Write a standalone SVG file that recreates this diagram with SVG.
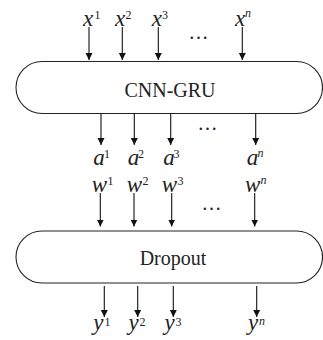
<svg xmlns="http://www.w3.org/2000/svg" width="323" height="340" viewBox="0 0 323 340">
<defs>
<marker id="ah" markerUnits="userSpaceOnUse" markerWidth="8" markerHeight="8" viewBox="0 0 8 8" refX="7" refY="4" orient="auto">
<path d="M0,0.5 L7,4 L0,7.5 Z" fill="#111"/>
</marker>
</defs>
<style>
text{font-family:'Liberation Serif','Times New Roman','DejaVu Serif',serif;fill:#222}
.box{fill:#fff;stroke:#222;stroke-width:1.1}
.title{font-size:20px;text-anchor:middle}
.lb{font-style:italic;font-size:23px}
.sp{font-size:12px}
.spi{font-style:italic;font-size:12px}
.dots{font-size:20px;text-anchor:middle}
.ar{stroke:#111;stroke-width:1.1;marker-end:url(#ah)}
</style>
<g id="cnn-gru">
<rect class="box" x="16" y="61.5" width="306.5" height="52" rx="26" ry="26"/>
<text class="title" x="170" y="97">CNN-GRU</text>
</g>
<g id="dropout">
<rect class="box" x="16" y="231" width="306.5" height="52" rx="26" ry="26"/>
<text class="title" x="173" y="265">Dropout</text>
</g>
<g id="connectors">
<line class="ar" x1="89" y1="27" x2="89" y2="60"/>
<line class="ar" x1="122.3" y1="27" x2="122.3" y2="60"/>
<line class="ar" x1="158.3" y1="27" x2="158.3" y2="60"/>
<line class="ar" x1="242.3" y1="27" x2="242.3" y2="60"/>
<line class="ar" x1="101" y1="113.5" x2="101" y2="145"/>
<line class="ar" x1="134.3" y1="113.5" x2="134.3" y2="145"/>
<line class="ar" x1="170.7" y1="113.5" x2="170.7" y2="145"/>
<line class="ar" x1="255.7" y1="113.5" x2="255.7" y2="145"/>
<line class="ar" x1="100.3" y1="193" x2="100.3" y2="226.5"/>
<line class="ar" x1="134" y1="193" x2="134" y2="226.5"/>
<line class="ar" x1="171.7" y1="193" x2="171.7" y2="226.5"/>
<line class="ar" x1="254.7" y1="193" x2="254.7" y2="226.5"/>
<line class="ar" x1="104.3" y1="286" x2="104.3" y2="317"/>
<line class="ar" x1="137.7" y1="286" x2="137.7" y2="317"/>
<line class="ar" x1="173.3" y1="286" x2="173.3" y2="317"/>
<line class="ar" x1="256.7" y1="286" x2="256.7" y2="317"/>
</g>
<g id="labels">
<text class="lb" x="83" y="26">x</text><text class="sp" x="94.5" y="19">1</text>
<text class="lb" x="115" y="26">x</text><text class="sp" x="125.5" y="19">2</text>
<text class="lb" x="151.7" y="26">x</text><text class="sp" x="162" y="19">3</text>
<text class="lb" x="235" y="26">x</text><text class="spi" x="245" y="17">n</text>
<text class="dots" x="198.5" y="39">…</text>
<text class="lb" x="93.3" y="165">a</text><text class="sp" x="104" y="158">1</text>
<text class="lb" x="127.7" y="165">a</text><text class="sp" x="138" y="158">2</text>
<text class="lb" x="163.3" y="165">a</text><text class="sp" x="173.5" y="158">3</text>
<text class="lb" x="246.7" y="165">a</text><text class="spi" x="257.5" y="157">n</text>
<text class="dots" x="207.5" y="130">…</text>
<text class="lb" x="91.7" y="191.7">w</text><text class="sp" x="107.5" y="185">1</text>
<text class="lb" x="126.7" y="191.7">w</text><text class="sp" x="142.5" y="185">2</text>
<text class="lb" x="161.7" y="191.7">w</text><text class="sp" x="177.5" y="185">3</text>
<text class="lb" x="245" y="191.7">w</text><text class="spi" x="260.5" y="184">n</text>
<text class="dots" x="211.5" y="210">…</text>
<text class="lb" x="93.3" y="330">y</text><text class="sp" x="104.5" y="326">1</text>
<text class="lb" x="128.5" y="330">y</text><text class="sp" x="139.5" y="326">2</text>
<text class="lb" x="164.5" y="330">y</text><text class="sp" x="175.5" y="326">3</text>
<text class="lb" x="248" y="330">y</text><text class="spi" x="259" y="325">n</text>
</g>
</svg>
